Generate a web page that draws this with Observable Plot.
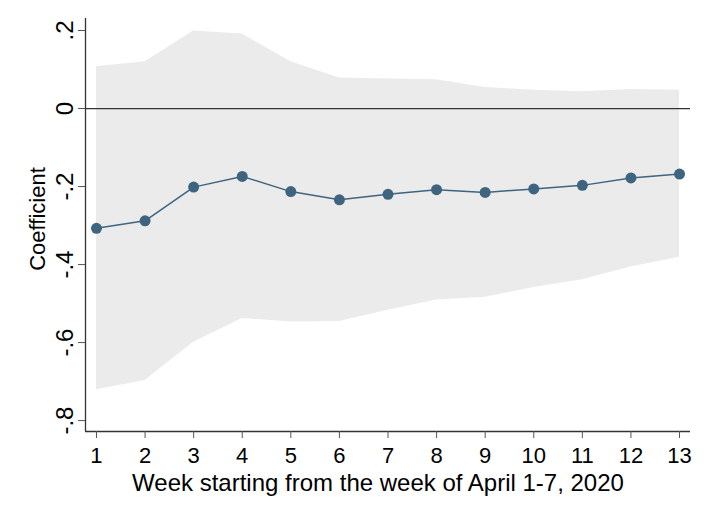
<!DOCTYPE html>
<html>
<head>
<meta charset="utf-8">
<script src="https://cdn.jsdelivr.net/npm/d3@7"></script>
<script src="https://cdn.jsdelivr.net/npm/@observablehq/plot@0.6"></script>
<style>
  html, body { margin: 0; padding: 0; background: #fff; }
  #chart svg { display: block; }
</style>
</head>
<body>
<div id="chart"></div>
<script>
const weeks = [1,2,3,4,5,6,7,8,9,10,11,12,13];
const coef  = [-0.307,-0.288,-0.2015,-0.174,-0.213,-0.234,-0.220,-0.208,-0.215,-0.206,-0.197,-0.178,-0.168];
const upper = [0.107,0.120,0.199,0.191,0.120,0.078,0.076,0.074,0.054,0.047,0.043,0.049,0.047];
const lower = [-0.721,-0.697,-0.599,-0.538,-0.547,-0.546,-0.517,-0.491,-0.484,-0.459,-0.439,-0.406,-0.381];
const yTicks = [-0.8,-0.6,-0.4,-0.2,0,0.2];
const yTickLabels = ["-.8","-.6","-.4","-.2","0",".2"];
const xTitle = "Week starting from the week of April 1-7, 2020";
const yTitle = "Coefficient";

const xDomain = [0.774, 13.226];
const yDomain = [-0.828, 0.2308];

const data = weeks.map((w, i) => ({week: w, coef: coef[i], hi: upper[i], lo: lower[i]}));
const font = "Liberation Sans, Arial, sans-serif";
const navy = "#3e6480";

const chart = Plot.plot({
  width: 709,
  height: 516,
  marginLeft: 85,
  marginRight: 19,
  marginTop: 18,
  marginBottom: 85,
  style: {fontFamily: font, background: "#fff"},
  x: {domain: xDomain, axis: null},
  y: {domain: yDomain, axis: null},
  marks: [
    Plot.areaY(data, {x: "week", y1: "lo", y2: "hi", fill: "#ebebeb"}),
    Plot.ruleY([0], {stroke: "#333", strokeWidth: 1.3}),
    Plot.line(data, {x: "week", y: "coef", stroke: navy, strokeWidth: 1.5}),
    Plot.dot(data, {x: "week", y: "coef", r: 5.5, fill: navy, stroke: "none"}),
    Plot.ruleX([xDomain[0]], {stroke: "#333", strokeWidth: 1.3}),
    Plot.ruleY([yDomain[0]], {stroke: "#333", strokeWidth: 1.3}),
    Plot.axisX({ticks: weeks, tickSize: 7, tickPadding: 9, tickFormat: d => String(d),
      fontSize: 22, stroke: "#555", fill: "#000", label: null}),
    Plot.axisY({ticks: yTicks, tickSize: 7, tickFormat: () => "", stroke: "#555", label: null}),
    Plot.text(yTicks, {y: d => d, text: (d, i) => yTickLabels[i], frameAnchor: "left",
      dx: -20.5, rotate: -90, textAnchor: "middle", lineAnchor: "middle", fontSize: 24, fill: "#000"}),
    Plot.text([yTitle], {frameAnchor: "left", dx: -48, dy: -6, rotate: -90,
      textAnchor: "middle", lineAnchor: "middle", fontSize: 22, fill: "#000"}),
    Plot.text([xTitle], {frameAnchor: "bottom", dx: -10, dy: 52, textAnchor: "middle",
      lineAnchor: "middle", fontSize: 24, fill: "#000"})
  ]
});
document.getElementById("chart").appendChild(chart);
</script>
</body>
</html>
